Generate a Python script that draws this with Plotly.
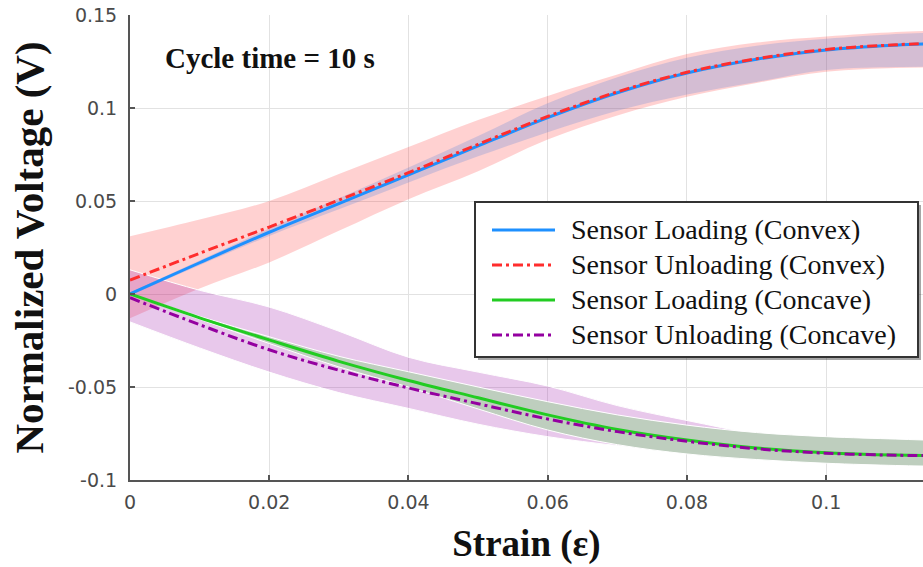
import plotly.graph_objects as go

# ---- data -------------------------------------------------------------
strain = [0.0, 0.01, 0.02, 0.03, 0.04, 0.05, 0.06, 0.07, 0.08, 0.09, 0.10, 0.11, 0.114]

convex_loading = [0.0000, 0.0168, 0.0332, 0.0486, 0.0640, 0.0796, 0.0948, 0.1082, 0.1188, 0.1262, 0.1312, 0.1338, 0.1344]
convex_loading_hi = [0.0008, 0.0180, 0.0352, 0.0515, 0.0680, 0.0850, 0.1025, 0.1165, 0.1270, 0.1335, 0.1372, 0.1398, 0.1404]
convex_loading_lo = [-0.0008, 0.0155, 0.0312, 0.0455, 0.0600, 0.0740, 0.0870, 0.0985, 0.1072, 0.1140, 0.1204, 0.1220, 0.1222]

convex_unloading = [0.0075, 0.0219, 0.0360, 0.0505, 0.0652, 0.0805, 0.0955, 0.1087, 0.1192, 0.1265, 0.1315, 0.1340, 0.1346]
convex_unloading_hi = [0.0310, 0.0400, 0.0500, 0.0645, 0.0790, 0.0935, 0.1065, 0.1180, 0.1290, 0.1352, 0.1384, 0.1408, 0.1414]
convex_unloading_lo = [-0.0130, 0.0030, 0.0170, 0.0340, 0.0510, 0.0660, 0.0830, 0.0960, 0.1060, 0.1135, 0.1195, 0.1215, 0.1218]

concave_loading = [0.0000, -0.0128, -0.0247, -0.0362, -0.0465, -0.0558, -0.0650, -0.0728, -0.0785, -0.0828, -0.0853, -0.0866, -0.0868]
concave_loading_hi = [0.0000, -0.0120, -0.0230, -0.0335, -0.0418, -0.0500, -0.0579, -0.0650, -0.0705, -0.0745, -0.0767, -0.0780, -0.0785]
concave_loading_lo = [0.0000, -0.0136, -0.0266, -0.0392, -0.0500, -0.0618, -0.0731, -0.0810, -0.0860, -0.0890, -0.0910, -0.0922, -0.0925]

concave_unloading = [-0.0020, -0.0165, -0.0300, -0.0410, -0.0505, -0.0590, -0.0672, -0.0740, -0.0792, -0.0832, -0.0856, -0.0867, -0.0869]
concave_unloading_hi = [0.0130, 0.0020, -0.0070, -0.0200, -0.0340, -0.0420, -0.0495, -0.0600, -0.0680, -0.0750, -0.0775, -0.0790, -0.0792]
concave_unloading_lo = [-0.0150, -0.0290, -0.0420, -0.0530, -0.0615, -0.0700, -0.0767, -0.0815, -0.0850, -0.0880, -0.0900, -0.0912, -0.0915]

series_names = [
    "Sensor Loading (Convex)",
    "Sensor Unloading (Convex)",
    "Sensor Loading (Concave)",
    "Sensor Unloading (Concave)",
]

x_ticks = [0, 0.02, 0.04, 0.06, 0.08, 0.1]
x_tick_text = ["0", "0.02", "0.04", "0.06", "0.08", "0.1"]
y_ticks = [-0.1, -0.05, 0, 0.05, 0.1, 0.15]
y_tick_text = ["-0.1", "-0.05", "0", "0.05", "0.1", "0.15"]

annotation_text = "Cycle time = 10 s"

# ---- styling ----------------------------------------------------------
W, H = 923, 567
M_L, M_R, M_T, M_B = 130, 0, 15, 87
PW, PH = W - M_L - M_R, H - M_T - M_B

line_colors = ["rgb(30,144,255)", "rgb(255,45,45)", "rgb(34,204,34)", "rgb(148,0,160)"]
DASHDOT = "10px,4px,3px,4px"
line_dash = ["solid", DASHDOT, "solid", DASHDOT]

SERIF = "Liberation Serif, Times New Roman, serif"
SANS = "DejaVu Sans, Verdana, sans-serif"


def px_x(p):
    return (p - M_L) / PW


def px_y(p):
    return (H - M_B - p) / PH


fig = go.Figure()


def band(lo, hi, fill, edge_w, edge_col="white"):
    fig.add_trace(go.Scatter(
        x=strain, y=lo, mode="lines", line=dict(width=edge_w, color=edge_col, shape="spline"),
        showlegend=False, hoverinfo="skip"))
    fig.add_trace(go.Scatter(
        x=strain, y=hi, mode="lines", line=dict(width=edge_w, color=edge_col, shape="spline"),
        fill="tonexty", fillcolor=fill, showlegend=False, hoverinfo="skip"))


# shaded spread bands
band(convex_unloading_lo, convex_unloading_hi, "rgba(255,0,0,0.18)", 0)
band(convex_loading_lo, convex_loading_hi, "rgba(83,133,221,0.25)", 0)
band(concave_unloading_lo, concave_unloading_hi, "rgba(163,35,175,0.25)", 1)
band(concave_loading_lo, concave_loading_hi, "rgb(190,206,190)", 1)

# mean curves
curves = [convex_loading, convex_unloading, concave_loading, concave_unloading]
for name, ys, col, dash in zip(series_names, curves, line_colors, line_dash):
    fig.add_trace(go.Scatter(
        x=strain, y=ys, mode="lines", name=name,
        line=dict(color=col, width=3, dash=dash, shape="spline"),
        showlegend=False))

axis_common = dict(
    showgrid=True, gridcolor="#e2e2e2", gridwidth=1,
    showline=True, linecolor="#555555", linewidth=2,
    ticks="inside", ticklen=5, tickwidth=1.5, tickcolor="#555555",
    zeroline=False, tickfont=dict(family=SANS, size=19, color="#4a4a4a"),
    mirror=False,
)

fig.update_xaxes(
    range=[0, 0.1139], tickvals=x_ticks, ticktext=x_tick_text,
    ticklabelstandoff=4,
    title=dict(text="Strain (ε)", font=dict(family=SERIF, size=37, color="#111111", weight="bold"), standoff=18),
    **axis_common)
fig.update_yaxes(
    range=[-0.1, 0.15], tickvals=y_ticks, ticktext=y_tick_text,
    ticklabelstandoff=7,
    title=dict(text="Normalized Voltage (V)", font=dict(family=SERIF, size=41, color="#111111", weight="bold"), standoff=12),
    **axis_common)

shapes = []
annotations = [dict(
    text=annotation_text, x=px_x(163), y=px_y(58), xref="paper", yref="paper",
    xanchor="left", yanchor="middle", showarrow=False,
    font=dict(family=SERIF, size=29, color="#111111", weight="bold"))]

# legend box
lx0, ly0, lx1, ly1 = 475, 202, 918, 357
shapes.append(dict(type="rect", xref="paper", yref="paper",
                   x0=px_x(lx0 + 3), x1=px_x(lx1 + 3), y0=px_y(ly1 + 3), y1=px_y(ly0 + 3),
                   fillcolor="rgba(0,0,0,0.35)", line=dict(width=0)))
shapes.append(dict(type="rect", xref="paper", yref="paper",
                   x0=px_x(lx0), x1=px_x(lx1), y0=px_y(ly1), y1=px_y(ly0),
                   fillcolor="white", line=dict(color="#333333", width=2)))
row_y = [230, 265, 300, 335]
for name, col, dash, ry in zip(series_names, line_colors, line_dash, row_y):
    shapes.append(dict(type="line", xref="paper", yref="paper",
                       x0=px_x(492), x1=px_x(555), y0=px_y(ry), y1=px_y(ry),
                       line=dict(color=col, width=3, dash=dash)))
    annotations.append(dict(
        text=name, x=px_x(569), y=px_y(ry - 1), xref="paper", yref="paper",
        xanchor="left", yanchor="middle", showarrow=False,
        font=dict(family=SERIF, size=28, color="#111111")))

fig.update_layout(
    width=W, height=H,
    margin=dict(l=M_L, r=M_R, t=M_T, b=M_B, pad=0),
    paper_bgcolor="white", plot_bgcolor="white",
    shapes=shapes, annotations=annotations,
    showlegend=False,
)

fig.write_html("out.html")
